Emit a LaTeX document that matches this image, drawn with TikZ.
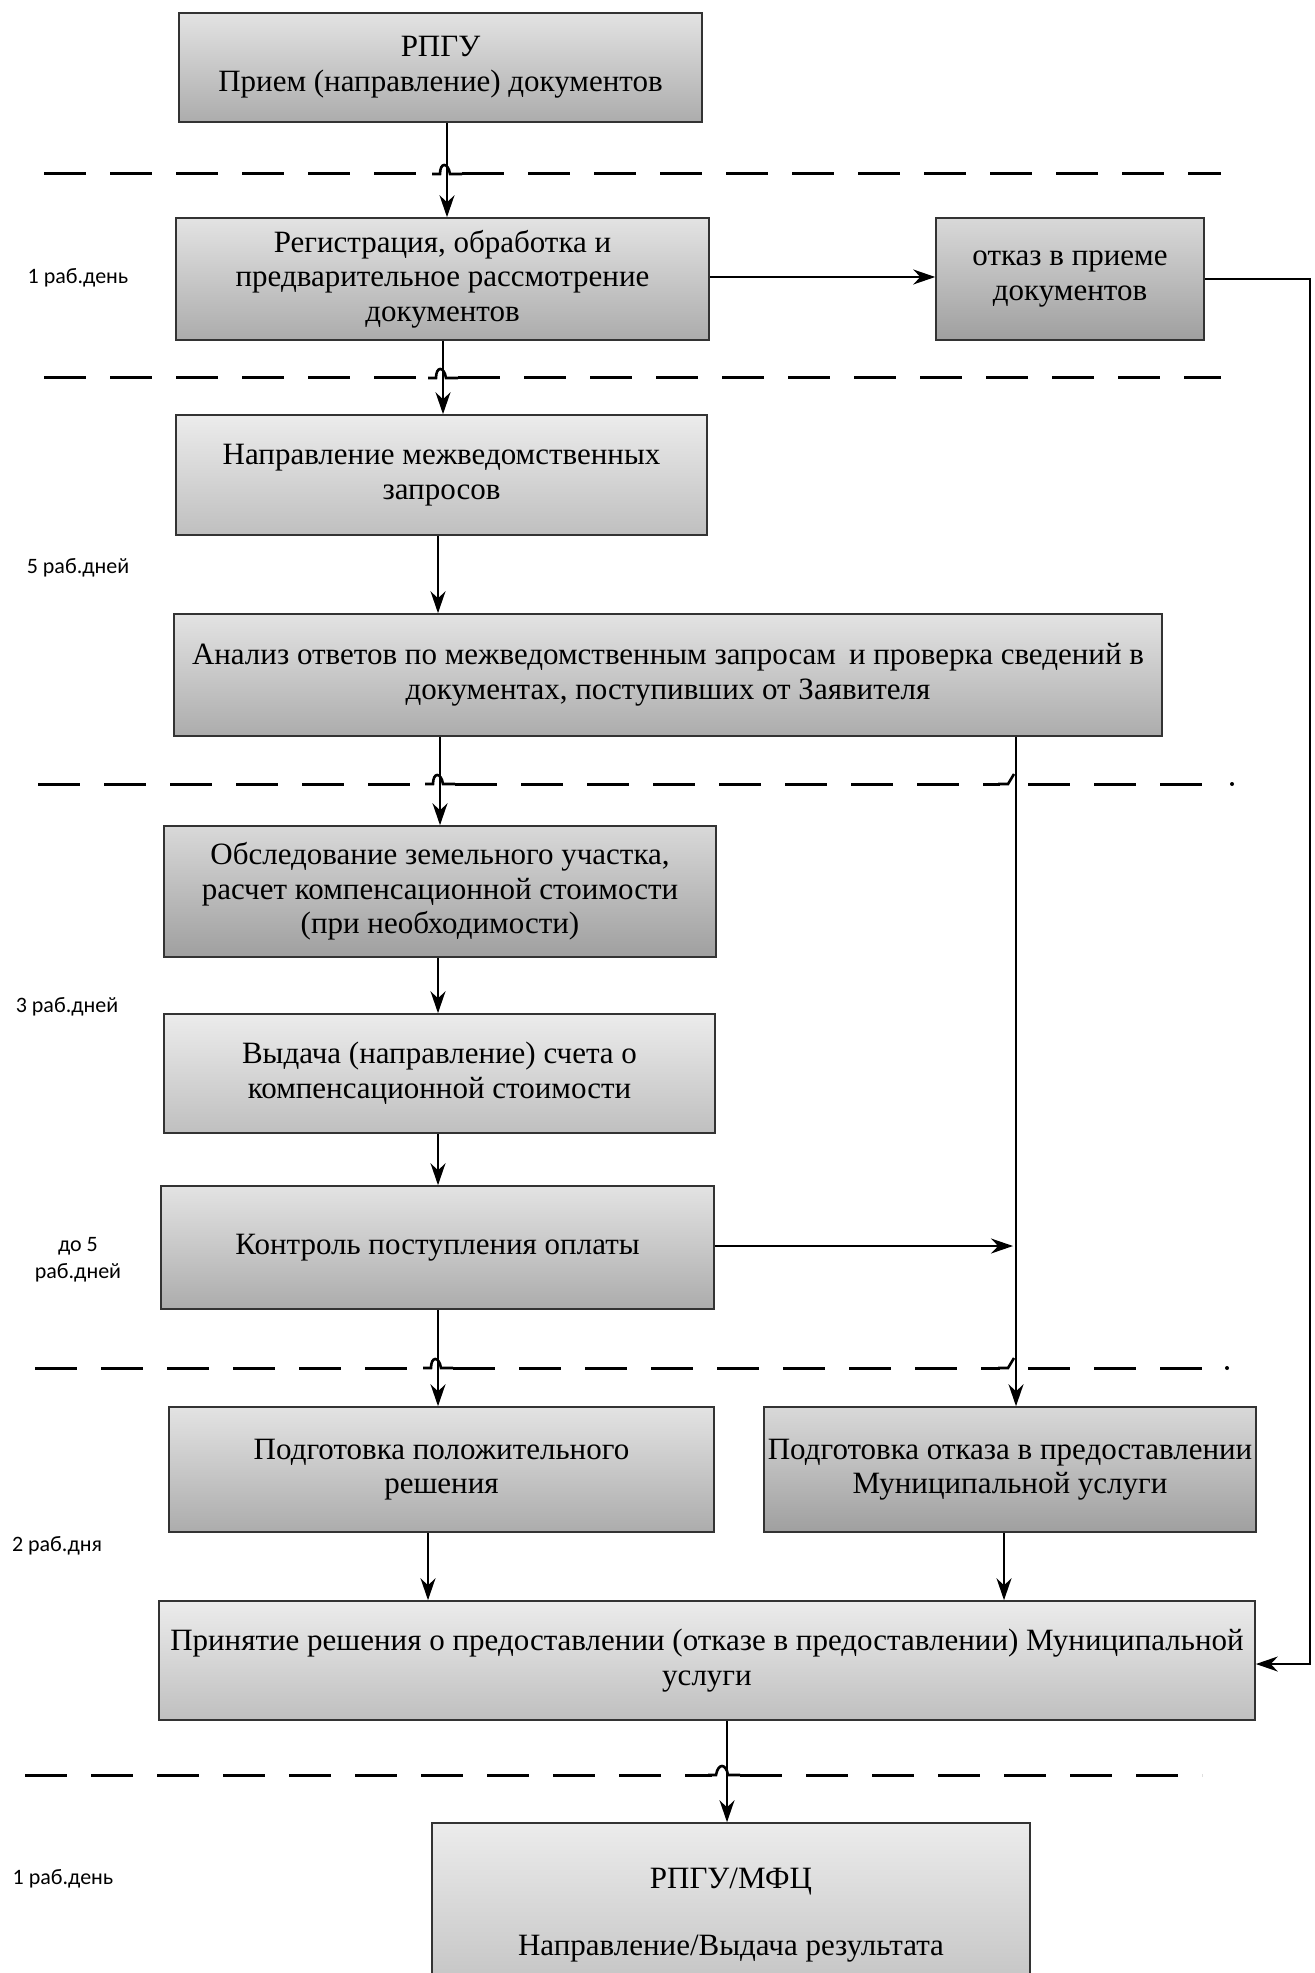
\documentclass[tikz,border=0pt]{standalone}
\usepackage{fontspec}
\setmainfont{Liberation Serif}
\newfontfamily\lblfont{Carlito}
\usetikzlibrary{arrows.meta}
\tikzset{
 box/.style={draw=black!80, line width=0.8pt, align=center,
   font=\fontsize{15.5}{17.3}\selectfont, inner sep=2pt},
 shL/.style={top color=gray!15, bottom color=gray!50},
 shM/.style={top color=gray!22, bottom color=gray!65},
 shD/.style={top color=gray!30, bottom color=gray!75},
 arr/.style={line width=1pt, -{Stealth[length=11pt,width=7.5pt]}},
 dline/.style={line width=1.5pt, dash pattern=on 21pt off 12pt},
 hop/.style={line width=1.3pt},
 lbl/.style={font=\lblfont\fontsize{11}{13.5}\selectfont, align=center},
}
\begin{document}
\begin{tikzpicture}[x=0.5pt,y=-0.5pt]
\useasboundingbox (0,0) rectangle (1314,1973);
\fill[white] (0,0) rectangle (1314,1973);

% boxes
\node[box, shM, minimum width=261.5pt, minimum height=54.5pt] (b1) at (440.5,67.5)
  {РПГУ\\Прием (направление) документов};
\node[box, shM, minimum width=266.5pt, minimum height=61pt] (b2) at (442.5,279)
  {Регистрация, обработка и\\предварительное рассмотрение\\документов};
\node[box, shD, minimum width=134pt, minimum height=61pt] (b3) at (1070,279)
  {отказ в приеме\\документов};
\node[box, shL, minimum width=265.5pt, minimum height=60pt] (b4) at (441.5,475)
  {Направление межведомственных\\запросов};
\node[box, shM, minimum width=494pt, minimum height=61pt] (b5) at (668,675)
  {Анализ ответов по межведомственным запросам\, и проверка сведений в\\документах, поступивших от Заявителя};
\node[box, shD, minimum width=276pt, minimum height=65.5pt] (b6) at (440,891.5)
  {Обследование земельного участка,\\расчет компенсационной стоимости\\(при необходимости)};
\node[box, shL, minimum width=275.5pt, minimum height=59.5pt] (b7) at (439.5,1073.5)
  {Выдача (направление) счета о\\компенсационной стоимости};
\node[box, shM, minimum width=276.5pt, minimum height=61.5pt] (b8) at (437.5,1247.5)
  {Контроль поступления оплаты};
\node[box, shM, minimum width=272.5pt, minimum height=62.5pt] (b9) at (441.5,1469.5)
  {Подготовка положительного\\решения};
\node[box, shD, minimum width=242pt, minimum height=62.5pt] (b10) at (1010,1469.5)
  {Подготовка отказа в предоставлении\\Муниципальной услуги};
\node[box, shL, minimum width=548pt, minimum height=59.5pt] (b11) at (707,1660.5)
  {Принятие решения о предоставлении (отказе в предоставлении) Муниципальной\\услуги};
\node[box, shL, minimum width=299pt, minimum height=92pt, font=\fontsize{15.5}{33.5}\selectfont] (b12) at (731,1915)
  {РПГУ/МФЦ\\Направление/Выдача результата};

% left labels
\node[lbl] (l1) at (78,278) {1 раб.день};
\node[lbl] (l2) at (78,568) {5 раб.дней};
\node[lbl] (l3) at (67,1007) {3 раб.дней};
\node[lbl] (l4) at (78,1260) {до 5\\раб.дней};
\node[lbl] (l5) at (57,1546) {2 раб.дня};
\node[lbl] (l6) at (63,1879) {1 раб.день};

% dashed separators with hops
\draw[dline] (44,174) -- (436,174);
\draw[hop] (432,174) -- (440,174) .. controls (440,162) and (448,162) .. (450,174) -- (462,174);
\draw[dline] (462,174) -- (1221,174);

\draw[dline] (44,378) -- (432,378);
\draw[hop] (428,378) -- (436,378) .. controls (436,366) and (444,366) .. (446,378) -- (458,378);
\draw[dline] (458,378) -- (1221,378);

\draw[dline] (38,784) -- (429,784);
\draw[hop] (425,784) -- (433,784) .. controls (433,772) and (441,772) .. (443,784) -- (455,784);
\draw[dline] (455,784) -- (1000,784);
\draw[hop] (998,784) -- (1008,784) -- (1014,774);
\draw[dline] (1028,784) -- (1222,784);
\fill (1232,784) circle (1pt);

\draw[dline] (35,1368) -- (427,1368);
\draw[hop] (423,1368) -- (431,1368) .. controls (431,1356) and (439,1356) .. (441,1368) -- (453,1368);
\draw[dline] (453,1368) -- (1000,1368);
\draw[hop] (998,1368) -- (1008,1368) -- (1014,1358);
\draw[dline] (1028,1368) -- (1222,1368);
\fill (1227,1368) circle (1pt);

\draw[dline] (25,1775) -- (712,1775);
\draw[hop] (708,1775) -- (716,1775) .. controls (718,1763) and (726,1763) .. (728,1775) -- (740,1775);
\draw[dline] (740,1775) -- (1202,1775);

% connector coordinates
\coordinate (c1) at (447,0);
\coordinate (c2) at (443,0);
\coordinate (c3) at (438,0);
\coordinate (c4) at (440,0);
\coordinate (c5) at (1016,0);
\coordinate (c9) at (428,0);
\coordinate (c10) at (1004,0);
\coordinate (c11) at (727,0);
\coordinate (y23) at (0,277);
\coordinate (rt) at (1310,279);
\coordinate (rb) at (1310,1664);
\coordinate (j8) at (1013,1246);

% connectors
\draw[arr] (b1.south -| c1) -- (b2.north -| c1);
\draw[arr] (b2.east |- y23) -- (b3.west |- y23);
\draw[arr] (b3.east |- rt) -- (rt) -- (rb) -- (b11.east |- rb);
\draw[arr] (b2.south -| c2) -- (b4.north -| c2);
\draw[arr] (b4.south -| c3) -- (b5.north -| c3);
\draw[arr] (b5.south -| c4) -- (b6.north -| c4);
\draw[arr] (b5.south -| c5) -- (b10.north -| c5);
\draw[arr] (b6.south -| c3) -- (b7.north -| c3);
\draw[arr] (b7.south -| c3) -- (b8.north -| c3);
\draw[arr] (b8.east |- j8) -- (j8);
\draw[arr] (b8.south -| c3) -- (b9.north -| c3);
\draw[arr] (b9.south -| c9) -- (b11.north -| c9);
\draw[arr] (b10.south -| c10) -- (b11.north -| c10);
\draw[arr] (b11.south -| c11) -- (b12.north -| c11);
\end{tikzpicture}
\end{document}
